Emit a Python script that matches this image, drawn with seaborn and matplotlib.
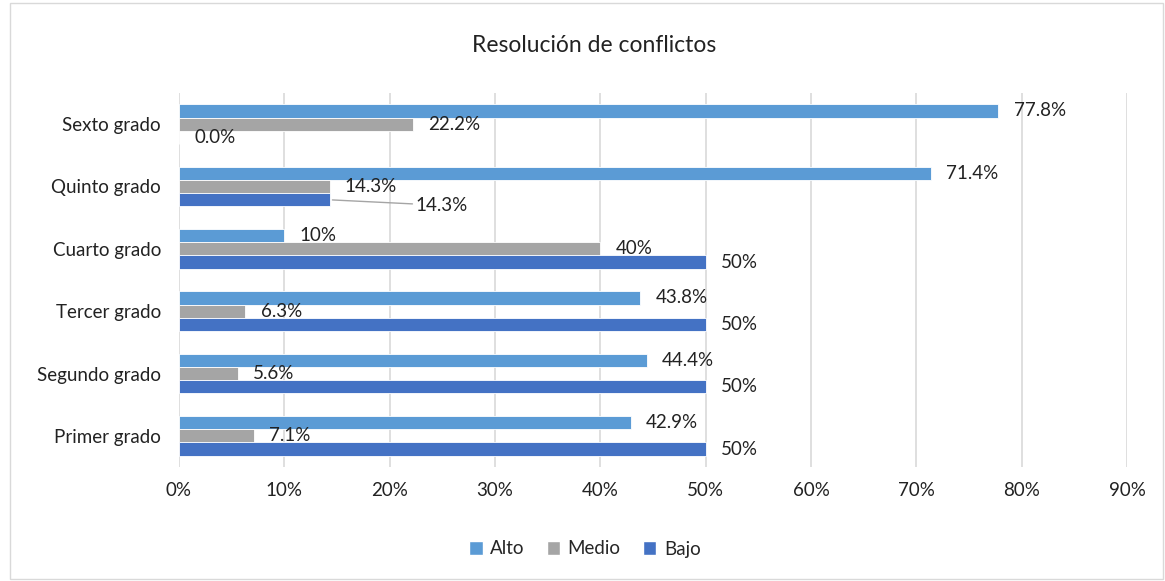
import pandas as pd
import seaborn as sns
import matplotlib.pyplot as plt
from matplotlib.patches import Patch, Rectangle

grados = ['Sexto grado', 'Quinto grado', 'Cuarto grado', 'Tercer grado', 'Segundo grado', 'Primer grado']
niveles = ['Alto', 'Medio', 'Bajo']
alto = [77.8, 71.4, 10, 43.8, 44.4, 42.9]
medio = [22.2, 14.3, 40, 6.3, 5.6, 7.1]
bajo = [0.0, 14.3, 50, 50, 50, 50]
alto_txt = ['77.8%', '71.4%', '10%', '43.8%', '44.4%', '42.9%']
medio_txt = ['22.2%', '14.3%', '40%', '6.3%', '5.6%', '7.1%']
bajo_txt = ['0.0%', '14.3%', '50%', '50%', '50%', '50%']
colores = ['#5B9BD5', '#A5A5A5', '#4472C4']
xticks = [0, 10, 20, 30, 40, 50, 60, 70, 80, 90]

rows = []
for nivel, vals in zip(niveles, [alto, medio, bajo]):
    for g, v in zip(grados, vals):
        rows.append({'grado': g, 'nivel': nivel, 'valor': v})
df = pd.DataFrame(rows)

sns.set_style('white')
plt.rcParams['font.family'] = ['Lato', 'DejaVu Sans']
FS = 13.5

fig = plt.figure(figsize=(11.65, 5.81), dpi=100)
ax = fig.add_axes([179 / 1165, 1 - 467 / 581, (1127 - 179) / 1165, (467 - 93) / 581])

sns.barplot(data=df, y='grado', x='valor', hue='nivel', order=grados, hue_order=niveles,
            palette=colores, saturation=1, orient='h', width=0.64, ax=ax, legend=False,
            edgecolor='white', linewidth=0.6, errorbar=None)

ax.set_xlim(0, 90)
ax.set_ylim(5.5, -0.5)
ax.set_xticks(xticks)
ax.set_xticklabels([f'{t}%' for t in xticks], fontsize=FS, color='#222222')
ax.tick_params(axis='y', labelsize=FS, labelcolor='#222222', length=0, pad=13)
ax.tick_params(axis='x', length=0, pad=11)
ax.set_xlabel('')
ax.set_ylabel('')
ax.grid(axis='x', color='#D9D9D9', linewidth=1.2)
ax.set_axisbelow(True)
for s in ax.spines.values():
    s.set_visible(False)

# data labels
bh = 0.64 / 3
for i, (nivel, vals, txts) in enumerate(zip(niveles, [alto, medio, bajo], [alto_txt, medio_txt, bajo_txt])):
    for j, (v, t) in enumerate(zip(vals, txts)):
        y = j + (i - 1) * bh
        if grados[j] == 'Quinto grado' and nivel == 'Bajo':
            ax.annotate(t, xy=(v, y), xytext=(62, -4), textcoords='offset points',
                        fontsize=FS, va='center', ha='left', color='#222222',
                        arrowprops=dict(arrowstyle='-', color='#A5A5A5', lw=1,
                                        shrinkA=0, shrinkB=2))
        else:
            ax.annotate(t, xy=(v, y), xytext=(11, 0), textcoords='offset points',
                        fontsize=FS, va='center', ha='left', color='#222222')

fig.text(594 / 1165, 1 - 45 / 581, 'Resolución de conflictos', fontsize=16.5,
         ha='center', va='center', color='#222222')

handles = [Patch(facecolor=c, label=n) for c, n in zip(colores, niveles)]
fig.legend(handles=handles, loc='center', bbox_to_anchor=(585 / 1165, 1 - 549 / 581),
           ncol=3, frameon=False, fontsize=FS, handlelength=0.7, handleheight=0.7,
           handletextpad=0.4, columnspacing=1.2)

fig.patches.append(Rectangle((10 / 1165, 2 / 581), 1153 / 1165, 576 / 581,
                             transform=fig.transFigure, fill=False,
                             edgecolor='#D9D9D9', linewidth=1))

fig.savefig('out.png', dpi=100)
